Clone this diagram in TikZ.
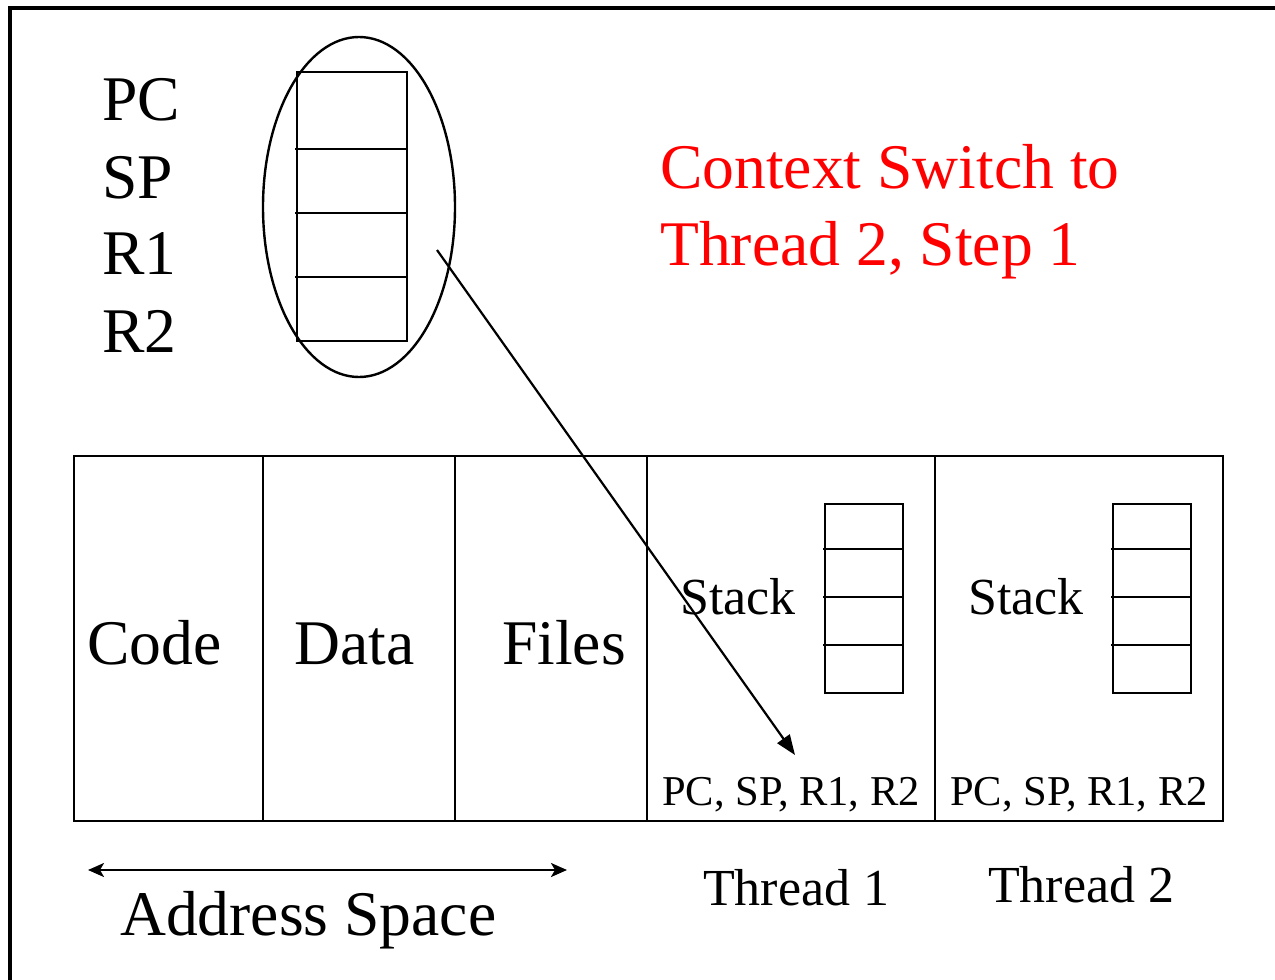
\documentclass[tikz,border=0pt]{standalone}
\usepackage{fontspec}
\setmainfont{Liberation Serif}
\usetikzlibrary{arrows.meta}
\tikzset{
  big/.style={font=\fontsize{63.6}{63.6}\selectfont, inner sep=0pt, anchor=base west},
  mid/.style={font=\fontsize{52}{52}\selectfont, inner sep=0pt, anchor=base west},
  small/.style={font=\fontsize{42.5}{42.5}\selectfont, inner sep=0pt, anchor=base west},
  frameline/.style={line width=3.2pt},
  boxline/.style={line width=2.8pt},
  cellline/.style={line width=2.8pt},
}
\begin{document}
\begin{tikzpicture}[x=1pt,y=-1pt]
\useasboundingbox (0,0) rectangle (1275,980);
% outer frame
\draw[frameline] (10,980) -- (10,8) -- (1275,8);
% register labels
\node[big] (pc) at (102,120) {PC};
\node[big] (sp) at (102,198) {SP};
\node[big] (r1) at (102,274) {R1};
\node[big] (r2) at (102,352) {R2};
% ellipse and register box
\draw[line width=2.4pt] (359,207) ellipse [x radius=96, y radius=170];
\draw[boxline] (297,72) rectangle (407,341);
\foreach \yy in {149,213,277} \draw[cellline] (295,\yy) -- (407,\yy);
% title
\node[big, text=red] (t1) at (660,188) {Context Switch to};
\node[big, text=red] (t2) at (660,265) {Thread 2, Step 1};
% main table
\draw[boxline] (74,456) rectangle (1223,821);
\foreach \xx in {263,455,647,935} \draw[boxline] (\xx,456) -- (\xx,821);
\node[big] (code) at (87,664) {Code};
\node[big] (data) at (294,664) {Data};
\node[big] (files) at (502,664) {Files};
% thread stacks
\foreach \ox/\nm in {825/a,1113/b}{
  \draw[boxline] (\ox,504) rectangle (\ox+78,693);
  \foreach \yy in {549,597,645} \draw[cellline] (\ox-2,\yy) -- (\ox+78,\yy);
}
\node[mid] (stack1) at (680,614) {Stack};
\node[mid] (stack2) at (968,614) {Stack};
\node[small] (regs1) at (662,805) {PC, SP, R1, R2};
\node[small] (regs2) at (950,805) {PC, SP, R1, R2};
\node[mid] (th1) at (703,905) {Thread 1};
\node[mid] (th2) at (988,902) {Thread 2};
% arrows
\coordinate (from) at (437,250);
\coordinate (to) at (795,755);
\draw[line width=2.2pt, -{Triangle[length=20pt,width=15pt]}] (from) -- (to);
\coordinate (asl) at (88,870);
\coordinate (asr) at (567,870);
\draw[line width=2.2pt, {Stealth[length=16pt,width=14pt,inset=4pt]}-{Stealth[length=16pt,width=14pt,inset=4pt]}] (asl) -- (asr);
\node[big] (addr) at (120,935) {Address Space};
\end{tikzpicture}
\end{document}
